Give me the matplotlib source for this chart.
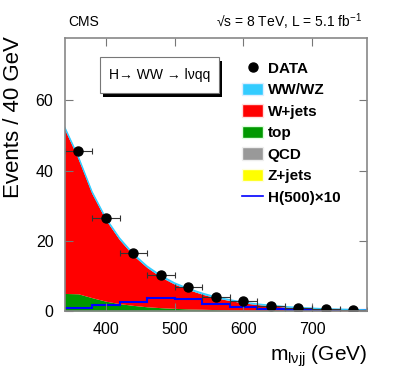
import matplotlib
matplotlib.use("Agg")
import numpy as np
import matplotlib.pyplot as plt
from matplotlib.patches import Patch, Rectangle
from matplotlib.lines import Line2D

plt.rcParams['font.family'] = ['Liberation Sans', 'DejaVu Sans']
plt.rcParams['mathtext.fontset'] = 'custom'
plt.rcParams['mathtext.rm'] = 'Liberation Sans'
plt.rcParams['mathtext.it'] = 'Liberation Sans:italic'

# background shapes (stacked), sampled every 20 GeV
mass_grid = np.arange(340, 781, 20)
top = [5.0, 4.9, 3.8, 2.8, 2.1, 1.6, 1.2, 0.95, 0.75, 0.6, 0.5, 0.4,
       0.3, 0.25, 0.2, 0.15, 0.12, 0.1, 0.08, 0.07, 0.06, 0.05, 0.05]
wjets = [46.9, 38.5, 29.65, 23.2, 18.2, 14.25, 11.2, 8.75, 6.9, 5.5, 4.3, 3.35,
         2.7, 2.05, 1.65, 1.3, 1.03, 0.8, 0.62, 0.45, 0.36, 0.29, 0.2]
wwwz = [0.6, 0.6, 0.55, 0.5, 0.5, 0.45, 0.4, 0.4, 0.35, 0.3, 0.3, 0.25,
        0.2, 0.2, 0.15, 0.15, 0.1, 0.1, 0.1, 0.08, 0.08, 0.06, 0.05]

# data points
data_x = [360, 400, 440, 480, 520, 560, 600, 640, 680, 720, 760]
data_y = [45.7, 26.4, 16.4, 10.3, 6.7, 4.1, 2.9, 1.4, 0.8, 0.5, 0.4]

# signal H(500) x10, 40 GeV bins
h_edges = np.arange(340, 781, 40)
h_vals = [0.95, 1.6, 2.5, 3.8, 3.3, 2.1, 1.05, 0.5, 0.35, 0.3, 0.25]

fig = plt.figure(figsize=(3.99, 3.75), dpi=100)
ax = fig.add_axes([64.5 / 399, 64 / 375, 302.5 / 399, 273 / 375])

c_top = '#009900'
c_wjets = '#ff0000'
c_wwwz = '#33ccff'
c_qcd = '#999999'
c_zjets = '#ffff00'

b0 = np.zeros(len(mass_grid))
b1 = b0 + np.array(top)
b2 = b1 + np.array(wjets)
b3 = b2 + np.array(wwwz)
ax.fill_between(mass_grid, b0, b1, color=c_top, lw=0)
ax.fill_between(mass_grid, b1, b2, color=c_wjets, lw=0)
ax.fill_between(mass_grid, b2, b3, color=c_wwwz, lw=0)
ax.plot(mass_grid, b3, color=c_wwwz, lw=1.0)

ax.stairs(h_vals, h_edges, color='#0000ff', lw=1.5, baseline=None)

ax.errorbar(data_x, data_y, xerr=20, fmt='o', color='black', ms=6.5,
            ecolor='#333333', elinewidth=0.8, capsize=2, capthick=0.8)

ax.set_xlim(340, 780)
ax.set_ylim(0, 77.8)
ax.set_xticks([400, 500, 600, 700])
ax.set_yticks([0, 20, 40, 60])
ax.tick_params(direction='in', length=6, width=0.8, color='#777777',
               top=True, right=True, labelsize=11.5, pad=8)
for s in ax.spines.values():
    s.set_color('#888888')
    s.set_linewidth(1.2)

ax.set_ylabel('Events / 40 GeV', fontsize=16)
ax.yaxis.set_label_coords(-0.133, 0.709)
ax.set_xlabel(r'm$_{\mathrm{l\nu jj}}$ (GeV)', fontsize=15)
ax.xaxis.set_label_coords(1.0, -0.12)
ax.xaxis.label.set_horizontalalignment('right')

fig.text(68 / 399, 1 - 22 / 375, 'CMS', fontsize=10, va='center')
fig.text(362 / 399, 1 - 22 / 375, '\u221as = 8 TeV, L = 5.1 fb$^{-1}$',
         fontsize=10, va='center', ha='right')

# label box with shadow
ax.add_patch(Rectangle((0.128, 0.783), 0.393, 0.132, transform=ax.transAxes,
                       facecolor='black', edgecolor='none', zorder=5))
ax.add_patch(Rectangle((0.117, 0.797), 0.393, 0.132, transform=ax.transAxes,
                       facecolor='white', edgecolor='#777777', lw=0.8, zorder=6))
ax.text(0.313, 0.863, 'H\u2192 WW \u2192 l\u03bdqq', transform=ax.transAxes,
        ha='center', va='center', fontsize=10, zorder=7)

handles = [
    Line2D([], [], marker='o', color='black', ls='none', ms=6.5),
    Patch(facecolor=c_wwwz, edgecolor='#ddeeff'),
    Patch(facecolor=c_wjets, edgecolor='#ffdddd'),
    Patch(facecolor=c_top, edgecolor='#ddffdd'),
    Patch(facecolor=c_qcd, edgecolor='#eeeeee'),
    Patch(facecolor=c_zjets, edgecolor='#ffffdd'),
    Line2D([], [], color='#0000ff', lw=1.2),
]
labels = ['DATA', 'WW/WZ', 'W+jets', 'top', 'QCD', 'Z+jets', 'H(500)\u00d710']
leg = ax.legend(handles, labels, loc='upper left', bbox_to_anchor=(0.562, 0.943),
                frameon=False, prop={'weight': 'bold', 'size': 11},
                handlelength=1.37, handleheight=0.88, handletextpad=0.3,
                labelspacing=0.46, borderpad=0.0)

fig.savefig('out.png', dpi=100)
